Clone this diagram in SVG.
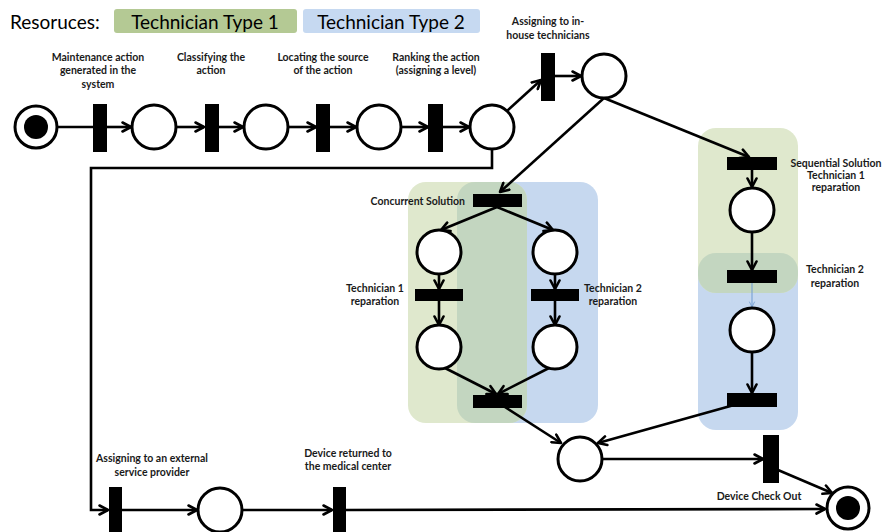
<svg xmlns="http://www.w3.org/2000/svg" width="884" height="532" viewBox="0 0 884 532">
<defs>
<marker id="arr" viewBox="0 0 12 12" refX="10" refY="6" markerWidth="12" markerHeight="12" markerUnits="userSpaceOnUse" orient="auto">
<path d="M1.5,1.5 L10,6 L1.5,10.5" fill="none" stroke="#000" stroke-width="2.6" stroke-linecap="round" stroke-linejoin="round"/>
</marker>
<marker id="arrb" viewBox="0 0 12 12" refX="10" refY="6" markerWidth="8" markerHeight="8" markerUnits="userSpaceOnUse" orient="auto">
<path d="M2,2 L10,6 L2,10" fill="none" stroke="#6f9bd1" stroke-width="1.2"/>
</marker>
<clipPath id="clipC"><rect x="457" y="182" width="141" height="241" rx="18"/></clipPath>
<clipPath id="clipS"><rect x="698" y="253" width="100" height="177" rx="18"/></clipPath>
</defs>
<style>
.lbl{font-family:Lato,"Liberation Sans",sans-serif;font-weight:bold;font-size:10.5px;fill:#1a1a1a;text-anchor:middle}
.lbl.end{text-anchor:end}
.pl{fill:#fff;stroke:#000;stroke-width:3}
.tr{fill:#000}
.c{fill:none;stroke:#000;stroke-width:2.6}
.g{fill:#dfe8cd}
.b{fill:#c6d8ef}
.o{fill:#c3d6c0}
.hdr{font-family:Lato,"Liberation Sans",sans-serif;font-size:19px;fill:#000}
</style>
<rect width="884" height="532" fill="#fff"/>
<g id="legend">
<text class="hdr" x="10" y="29">Resoruces:</text>
<rect x="114" y="9" width="183" height="24" rx="3" fill="#b4c994"/>
<text class="hdr" x="205" y="29" text-anchor="middle">Technician Type 1</text>
<rect x="303" y="9" width="177" height="24" rx="3" fill="#c6d9f1"/>
<text class="hdr" x="391" y="29" text-anchor="middle">Technician Type 2</text>
</g>
<g id="regions">
<rect class="b" x="457" y="182" width="141" height="241" rx="18"/>
<rect class="g" x="408" y="182" width="119" height="241" rx="18"/>
<rect class="o" x="408" y="182" width="119" height="241" rx="18" clip-path="url(#clipC)"/>
<rect class="b" x="698" y="253" width="100" height="177" rx="18"/>
<rect class="g" x="698" y="128" width="100" height="165" rx="18"/>
<rect class="o" x="698" y="128" width="100" height="165" rx="18" clip-path="url(#clipS)"/>
</g>
<g id="connectors">
<line class="c" x1="58" y1="127" x2="93" y2="127"/>
<line class="c" x1="106" y1="127" x2="131" y2="127" marker-end="url(#arr)"/>
<line class="c" x1="176" y1="127" x2="204" y2="127" marker-end="url(#arr)"/>
<line class="c" x1="219" y1="127" x2="243" y2="127" marker-end="url(#arr)"/>
<line class="c" x1="288" y1="127" x2="316" y2="127" marker-end="url(#arr)"/>
<line class="c" x1="330" y1="127" x2="356" y2="127" marker-end="url(#arr)"/>
<line class="c" x1="401" y1="127" x2="428" y2="127" marker-end="url(#arr)"/>
<line class="c" x1="443" y1="127" x2="469" y2="127" marker-end="url(#arr)"/>
<line class="c" x1="507" y1="111" x2="541" y2="80" marker-end="url(#arr)"/>
<line class="c" x1="555" y1="76" x2="581" y2="76" marker-end="url(#arr)"/>
<line class="c" x1="604" y1="98" x2="500" y2="192" marker-end="url(#arr)"/>
<line class="c" x1="604" y1="98" x2="749" y2="157" marker-end="url(#arr)"/>
<polyline class="c" points="492,149 492,168 91,168 91,510 108,510" marker-end="url(#arr)"/>
<line class="c" x1="122" y1="510" x2="197" y2="510" marker-end="url(#arr)"/>
<line class="c" x1="242" y1="510" x2="332" y2="510" marker-end="url(#arr)"/>
<line class="c" x1="346" y1="510" x2="825" y2="509" marker-end="url(#arr)"/>
<line class="c" x1="497" y1="207" x2="441" y2="230" marker-end="url(#arr)"/>
<line class="c" x1="497" y1="207" x2="553" y2="230" marker-end="url(#arr)"/>
<line class="c" x1="439" y1="274" x2="439" y2="289" marker-end="url(#arr)"/>
<line class="c" x1="555" y1="274" x2="555" y2="289" marker-end="url(#arr)"/>
<line class="c" x1="439" y1="301" x2="439" y2="325" marker-end="url(#arr)"/>
<line class="c" x1="555" y1="301" x2="555" y2="325" marker-end="url(#arr)"/>
<line class="c" x1="445" y1="368" x2="496" y2="394" marker-end="url(#arr)"/>
<line class="c" x1="549" y1="368" x2="498" y2="394" marker-end="url(#arr)"/>
<line class="c" x1="497" y1="402" x2="561" y2="443" marker-end="url(#arr)"/>
<line class="c" x1="752" y1="170" x2="752" y2="187" marker-end="url(#arr)"/>
<line class="c" x1="752" y1="233" x2="752" y2="270" marker-end="url(#arr)"/>
<line x1="752" y1="283" x2="752" y2="307" stroke="#6f9bd1" stroke-width="1" marker-end="url(#arrb)"/>
<line class="c" x1="752" y1="353" x2="752" y2="393" marker-end="url(#arr)"/>
<line class="c" x1="752" y1="400" x2="598" y2="443" marker-end="url(#arr)"/>
<line class="c" x1="602" y1="459" x2="763" y2="459" marker-end="url(#arr)"/>
<line class="c" x1="778" y1="470" x2="832" y2="493" marker-end="url(#arr)"/>
</g>
<g id="start"><circle class="pl" cx="36" cy="127" r="21"/><circle cx="36" cy="127" r="12" fill="#000"/></g>
<g id="t-maintenance"><rect class="tr" x="93" y="104" width="14" height="48"/>
<text class="lbl" x="98" y="61">Maintenance action</text><text class="lbl" x="98" y="74">generated in the</text><text class="lbl" x="98" y="88">system</text></g>
<g id="p1"><circle class="pl" cx="154" cy="127" r="22"/></g>
<g id="t-classify"><rect class="tr" x="205" y="104" width="14" height="48"/>
<text class="lbl" x="211" y="61">Classifying the</text><text class="lbl" x="211" y="74">action</text></g>
<g id="p2"><circle class="pl" cx="266" cy="127" r="22"/></g>
<g id="t-locate"><rect class="tr" x="316" y="104" width="14" height="48"/>
<text class="lbl" x="323" y="61">Locating the source</text><text class="lbl" x="323" y="74">of the action</text></g>
<g id="p3"><circle class="pl" cx="379" cy="127" r="22"/></g>
<g id="t-rank"><rect class="tr" x="428" y="104" width="15" height="48"/>
<text class="lbl" x="436" y="61">Ranking the action</text><text class="lbl" x="436" y="74">(assigning a level)</text></g>
<g id="p4"><circle class="pl" cx="492" cy="127" r="22"/></g>
<g id="t-inhouse"><rect class="tr" x="541" y="53" width="14" height="48"/>
<text class="lbl" x="548" y="25">Assigning to in-</text><text class="lbl" x="548" y="39">house technicians</text></g>
<g id="p5"><circle class="pl" cx="604" cy="76" r="22"/></g>
<g id="t-concurrent"><rect class="tr" x="473" y="194" width="49" height="13"/>
<text class="lbl end" x="465" y="205">Concurrent Solution</text></g>
<g id="pc1"><circle class="pl" cx="439" cy="252" r="22"/></g>
<g id="pc2"><circle class="pl" cx="555" cy="252" r="22"/></g>
<g id="t-tech1"><rect class="tr" x="415" y="289" width="48" height="12"/>
<text class="lbl" x="375" y="292">Technician 1</text><text class="lbl" x="375" y="305">reparation</text></g>
<g id="t-tech2"><rect class="tr" x="531" y="289" width="48" height="12"/>
<text class="lbl" x="613" y="292">Technician 2</text><text class="lbl" x="613" y="305">reparation</text></g>
<g id="pc3"><circle class="pl" cx="439" cy="347" r="22"/></g>
<g id="pc4"><circle class="pl" cx="555" cy="347" r="22"/></g>
<g id="t-join"><rect class="tr" x="473" y="395" width="49" height="13"/></g>
<g id="t-seq1"><rect class="tr" x="727" y="157" width="50" height="13"/>
<text class="lbl" x="836" y="167">Sequential Solution</text><text class="lbl" x="836" y="179">Technician 1</text><text class="lbl" x="836" y="191">reparation</text></g>
<g id="ps1"><circle class="pl" cx="752" cy="210" r="22"/></g>
<g id="t-seq2"><rect class="tr" x="727" y="270" width="50" height="13"/>
<text class="lbl" x="835" y="273">Technician 2</text><text class="lbl" x="835" y="287">reparation</text></g>
<g id="ps2"><circle class="pl" cx="752" cy="330" r="22"/></g>
<g id="t-seq3"><rect class="tr" x="727" y="393" width="50" height="14"/></g>
<g id="p-merge"><circle class="pl" cx="580" cy="459" r="22"/></g>
<g id="t-checkout"><rect class="tr" x="763" y="435" width="16" height="48"/>
<text class="lbl" x="759" y="500">Device Check Out</text></g>
<g id="t-external"><rect class="tr" x="109" y="487" width="13" height="50"/>
<text class="lbl" x="152" y="462">Assigning to an external</text><text class="lbl" x="152" y="476">service provider</text></g>
<g id="p-ext"><circle class="pl" cx="220" cy="510" r="22"/></g>
<g id="t-returned"><rect class="tr" x="333" y="487" width="13" height="50"/>
<text class="lbl" x="348" y="457">Device returned to</text><text class="lbl" x="348" y="470">the medical center</text></g>
<g id="end"><circle class="pl" cx="848" cy="508" r="21"/><circle cx="848" cy="508" r="12" fill="#000"/></g>
</svg>
